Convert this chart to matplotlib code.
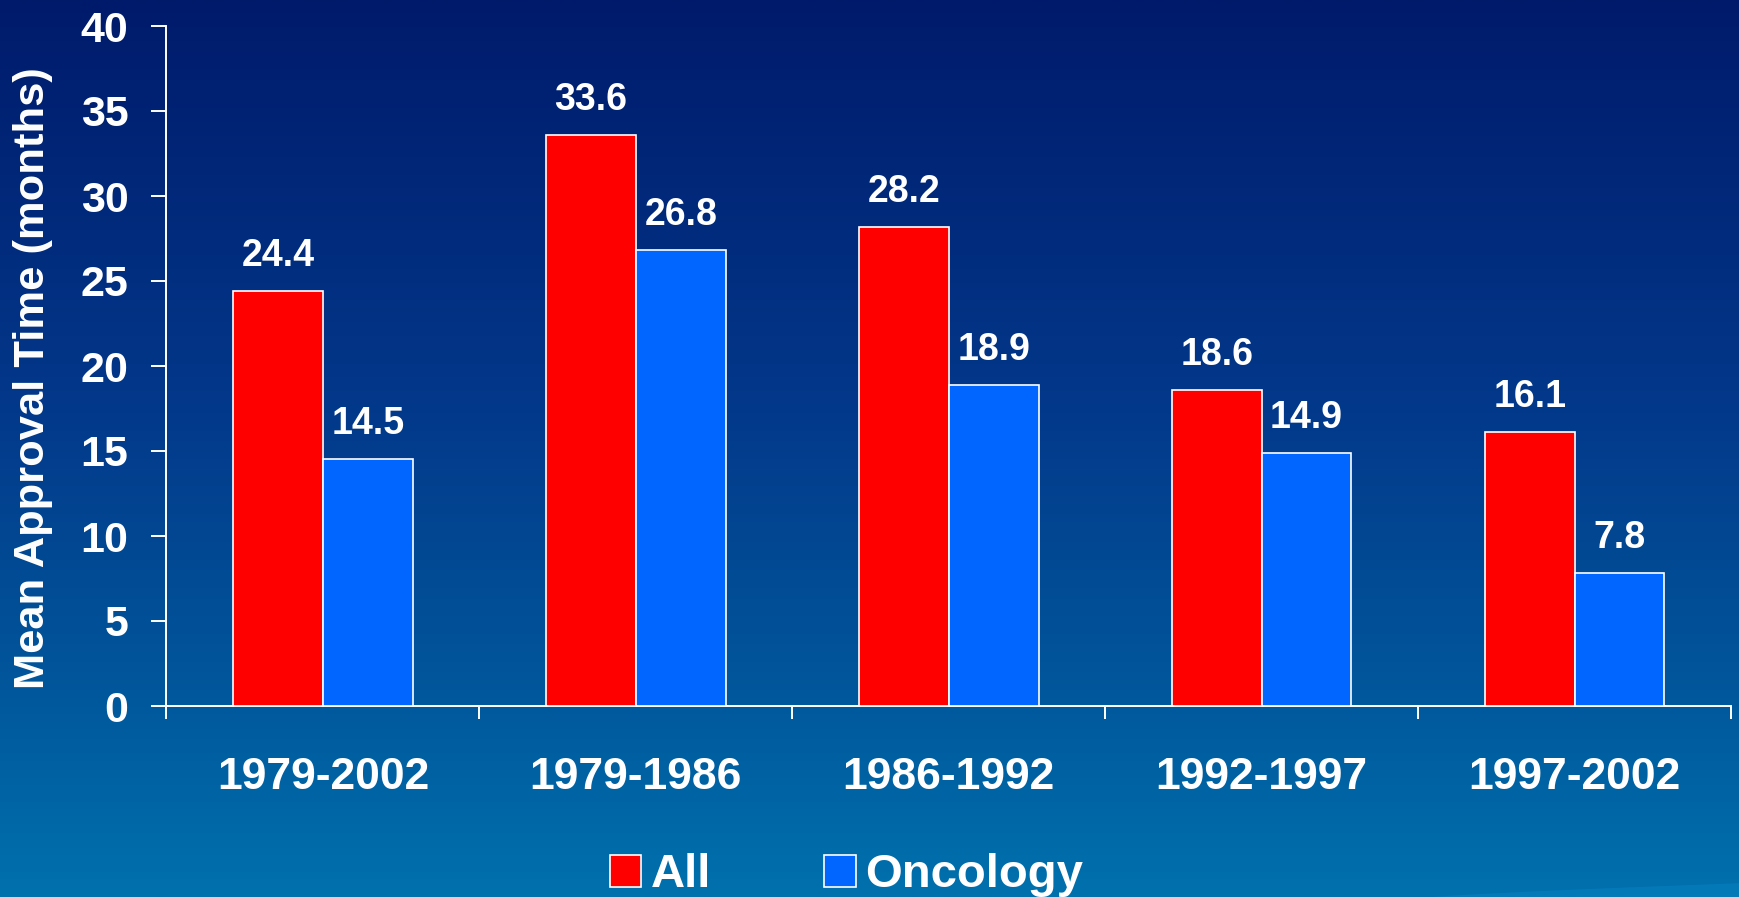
import numpy as np
import matplotlib
matplotlib.use("Agg")
import matplotlib.pyplot as plt
from matplotlib.colors import LinearSegmentedColormap

# Mean approval time by period
periods = ["1979-2002", "1979-1986", "1986-1992", "1992-1997", "1997-2002"]
all_drugs = [24.4, 33.6, 28.2, 18.6, 16.1]
oncology = [14.5, 26.8, 18.9, 14.9, 7.8]
series_names = ["All", "Oncology"]
y_ticks = [0, 5, 10, 15, 20, 25, 30, 35, 40]

plt.rcParams["font.family"] = ["Liberation Sans", "DejaVu Sans"]
plt.rcParams["font.weight"] = "bold"

W, H, DPI = 17.4, 8.97, 100
fig = plt.figure(figsize=(W, H), dpi=DPI)

# Slide background: vertical navy-to-blue gradient
bg = fig.add_axes([0, 0, 1, 1], zorder=-10)
bg_cmap = LinearSegmentedColormap.from_list(
    "slide",
    [(0.0, "#001a6b"), (0.45, "#03388a"), (0.78, "#01589c"), (1.0, "#0071ad")],
)
grad = np.linspace(0, 1, 512).reshape(-1, 1)
bg.imshow(grad, aspect="auto", cmap=bg_cmap, extent=[0, 1, 1, 0])
# faint light swoosh in the lower right corner of the slide
sx = np.linspace(0.82, 1.0, 100)
sy = 1.0 - 0.016 * ((sx - 0.82) / 0.18) ** 0.8
bg.fill_between(sx, sy, 1.0, color="#0a86c8", alpha=0.45, linewidth=0)
bg.set_xlim(0, 1)
bg.set_ylim(1, 0)
bg.axis("off")

ax = fig.add_axes([166.5 / 1740, 1 - 706 / 897, (1731 - 166.5) / 1740, (706 - 26) / 897])
ax.patch.set_alpha(0)

x = np.arange(len(periods))
w = 0.287
red = "#ff0000"
blue = "#0066ff"
b1 = ax.bar(x - w / 2, all_drugs, w, color=red, edgecolor="white", linewidth=1.2,
            label=series_names[0], zorder=3)
b2 = ax.bar(x + w / 2, oncology, w, color=blue, edgecolor="white", linewidth=1.2,
            label=series_names[1], zorder=3)

for bars, vals in ((b1, all_drugs), (b2, oncology)):
    for rect, v in zip(bars, vals):
        ax.annotate(f"{v:.1f}", (rect.get_x() + rect.get_width() / 2, v),
                    xytext=(0, 18), textcoords="offset points",
                    ha="center", va="baseline", color="white",
                    fontsize=27, fontweight="bold")

ax.set_xlim(-0.5, len(periods) - 0.5)
ax.set_ylim(0, 40)
ax.set_yticks(y_ticks)
ax.set_yticklabels([str(t) for t in y_ticks])

# group separators as major ticks, category names on minor ticks
ax.set_xticks(np.arange(-0.5, len(periods), 1.0))
ax.set_xticklabels([])
ax.set_xticks(x, minor=True)
ax.set_xticklabels(periods, minor=True)

for s in ("top", "right"):
    ax.spines[s].set_visible(False)
for s in ("left", "bottom"):
    ax.spines[s].set_color("white")
    ax.spines[s].set_linewidth(1.4)

ax.tick_params(axis="y", colors="white", length=10.8, width=1.4, pad=16.5,
               labelsize=31, direction="out")
ax.tick_params(axis="x", which="major", colors="white", length=9.5, width=1.4,
               direction="out")
ax.tick_params(axis="x", which="minor", colors="white", length=0, pad=37,
               labelsize=32)
for lbl in ax.get_yticklabels() + ax.get_xticklabels(minor=True):
    lbl.set_fontweight("bold")

ax.set_ylabel("Mean Approval Time (months)", color="white", fontsize=31.3,
              fontweight="bold")
ax.yaxis.set_label_coords((53 - 166.5) / 1564.5, 0.482)

leg = fig.legend(handles=[b1, b2], labels=series_names, loc="center",
                 bbox_to_anchor=(0.4865, 0.024), ncol=2, frameon=False,
                 fontsize=34, handlelength=0.66, handleheight=0.66,
                 handletextpad=0.21, columnspacing=2.4, borderpad=0)
for t in leg.get_texts():
    t.set_color("white")
    t.set_fontweight("bold")
for h in leg.legend_handles:
    h.set_edgecolor("white")
    h.set_linewidth(1.2)

fig.savefig("out.png", dpi=DPI)
